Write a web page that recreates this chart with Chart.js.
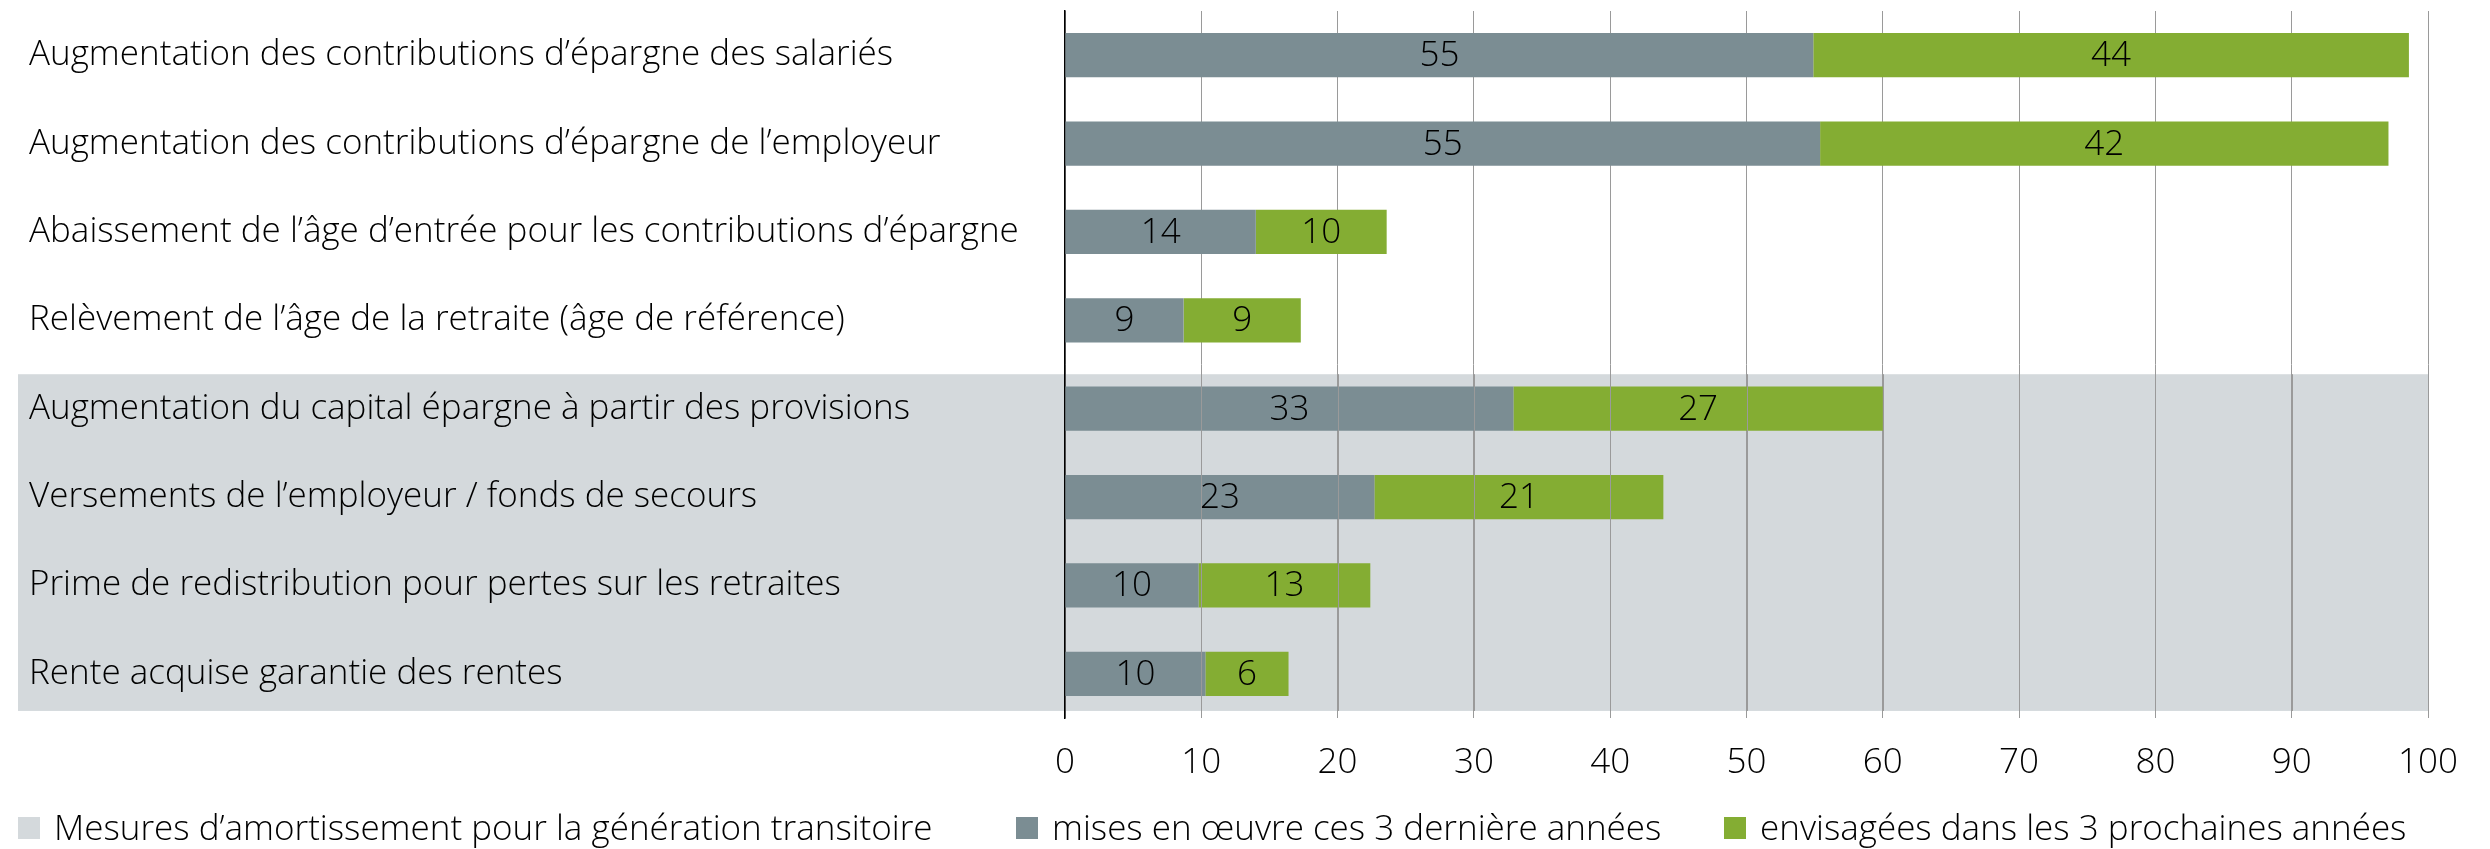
<!DOCTYPE html>
<html>
<head>
<meta charset="utf-8">
<script src="https://cdn.jsdelivr.net/npm/chart.js@4.4.1/dist/chart.umd.min.js"></script>
<style>
  html, body { margin: 0; padding: 0; background: #fff; }
  #wrap { position: relative; width: 2490px; height: 849px; }
  #legend { position: absolute; left: 0; top: 806px; width: 2490px; height: 40px;
            font-family: "Open Sans", sans-serif; font-weight: 300; font-size: 35px; color: #000; }
  .item { position: absolute; top: 0; height: 40px; display: flex; align-items: center; white-space: nowrap; }
  .box { width: 22px; height: 22px; margin-right: 14px; margin-top: 4px; }
</style>
</head>
<body>
<div id="wrap">
  <canvas id="chart" width="2490" height="849"></canvas>
  <div id="legend"></div>
</div>
<script>
// données
const categories = [
  'Augmentation des contributions d’épargne des salariés',
  'Augmentation des contributions d’épargne de l’employeur',
  'Abaissement de l’âge d’entrée pour les contributions d’épargne',
  'Relèvement de l’âge de la retraite (âge de référence)',
  'Augmentation du capital épargne à partir des provisions',
  'Versements de l’employeur / fonds de secours',
  'Prime de redistribution pour pertes sur les retraites',
  'Rente acquise garantie des rentes'
];
const implemented = [54.9, 55.4, 14.0, 8.7, 32.9, 22.7, 9.8, 10.3];
const planned = [43.7, 41.7, 9.6, 8.6, 27.1, 21.2, 12.6, 6.1];
const seriesNames = ['mises en œuvre ces 3 dernière années', 'envisagées dans les 3 prochaines années'];
const bandName = 'Mesures d’amortissement pour la génération transitoire';
const bandRows = [4, 7]; // première et dernière catégorie de la zone grise
const xTicks = [0, 10, 20, 30, 40, 50, 60, 70, 80, 90, 100];

const GREY = '#7b8d93';
const GREEN = '#84ad33';
const BAND = '#d4d9dc';
const GRID = '#9a9a9a';
const FONT = '"Open Sans", sans-serif';

// zone grise derrière les 4 dernières mesures + lignes de grille par-dessus les barres
const bandPlugin = {
  id: 'band',
  bandBox(chart) {
    const y = chart.scales.y;
    const step = y.getPixelForTick(1) - y.getPixelForTick(0);
    return {
      top: y.getPixelForTick(bandRows[0]) - step * 0.39,
      bottom: y.getPixelForTick(bandRows[1]) + step * 0.42
    };
  },
  beforeDraw(chart) {
    const ctx = chart.ctx;
    const b = this.bandBox(chart);
    ctx.save();
    ctx.fillStyle = BAND;
    ctx.fillRect(18, b.top, chart.chartArea.right - 18, b.bottom - b.top);
    ctx.restore();
  },
  afterDatasetsDraw(chart) {
    const ctx = chart.ctx;
    const b = this.bandBox(chart);
    const x = chart.scales.x;
    ctx.save();
    ctx.strokeStyle = GRID;
    ctx.lineWidth = 1;
    x.ticks.forEach((t, i) => {
      if (i === 0) return;
      const px = Math.round(x.getPixelForValue(t.value)) + 0.5;
      ctx.beginPath();
      ctx.moveTo(px, b.top);
      ctx.lineTo(px, b.bottom);
      ctx.stroke();
    });
    ctx.restore();
  }
};

// étiquettes de valeur au centre de chaque segment
const valueLabels = {
  id: 'valueLabels',
  afterDatasetsDraw(chart) {
    const ctx = chart.ctx;
    ctx.save();
    ctx.font = '300 35px ' + FONT;
    ctx.fillStyle = '#000';
    ctx.textAlign = 'center';
    ctx.textBaseline = 'middle';
    chart.data.datasets.forEach((ds, di) => {
      chart.getDatasetMeta(di).data.forEach((bar, i) => {
        ctx.fillText(String(Math.round(ds.data[i])), (bar.x + bar.base) / 2, bar.y + 1);
      });
    });
    ctx.restore();
  }
};

new Chart(document.getElementById('chart'), {
  type: 'bar',
  data: {
    labels: categories,
    datasets: [
      { label: seriesNames[0], data: implemented, backgroundColor: GREY },
      { label: seriesNames[1], data: planned, backgroundColor: GREEN }
    ]
  },
  options: {
    indexAxis: 'y',
    responsive: false,
    animation: false,
    devicePixelRatio: 1,
    layout: { padding: { left: 29, top: 11, right: 62, bottom: 41 } },
    datasets: { bar: { categoryPercentage: 1, barPercentage: 0.5 } },
    plugins: { legend: { display: false }, tooltip: { enabled: false } },
    scales: {
      x: {
        stacked: true,
        min: 0, max: 100,
        afterBuildTicks: (s) => { s.ticks = xTicks.map(v => ({ value: v })); },
        ticks: { font: { family: FONT, size: 35, weight: 300 }, color: '#000', padding: 24 },
        grid: { color: GRID, lineWidth: 1, drawTicks: false },
        border: { display: false }
      },
      y: {
        stacked: true,
        afterFit: (s) => { s.width = 1036; },
        ticks: { font: { family: FONT, size: 35, weight: 300, lineHeight: 0.6 }, color: '#000', crossAlign: 'far', padding: 0 },
        grid: { display: false },
        border: { display: true, color: '#000', width: 1.5 }
      }
    }
  },
  plugins: [bandPlugin, valueLabels]
});

// légende
const legendItems = [
  { text: bandName, color: BAND, left: 18 },
  { text: seriesNames[0], color: GREY, left: 1016 },
  { text: seriesNames[1], color: GREEN, left: 1724 }
];
const legend = document.getElementById('legend');
legendItems.forEach(it => {
  const d = document.createElement('div');
  d.className = 'item';
  d.style.left = it.left + 'px';
  d.innerHTML = '<span class="box" style="background:' + it.color + '"></span><span>' + it.text + '</span>';
  legend.appendChild(d);
});
</script>
</body>
</html>
